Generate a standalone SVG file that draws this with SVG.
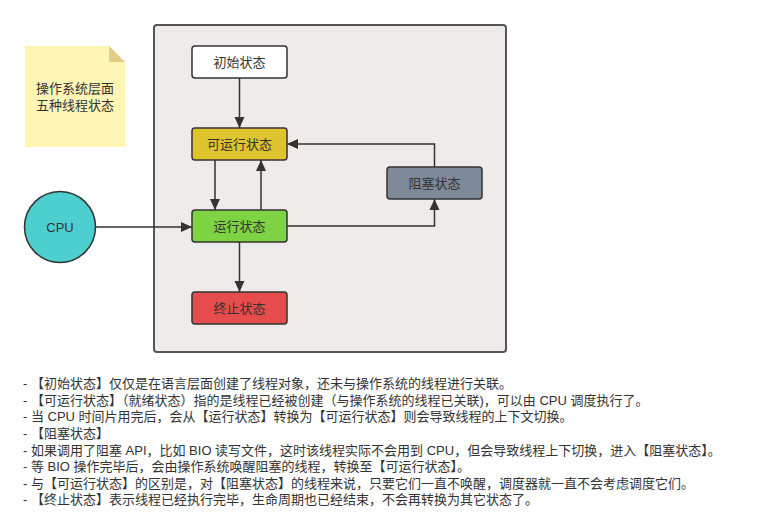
<svg xmlns="http://www.w3.org/2000/svg" width="769" height="529" viewBox="0 0 769 529">
<defs>
<marker id="ah" viewBox="0 0 10 12" refX="11" refY="6" markerWidth="10" markerHeight="12" markerUnits="userSpaceOnUse" orient="auto">
<path d="M0,1 L11,6 L0,11 z" fill="#333"/>
</marker>
<style>
.t{font-family:"Liberation Sans","Noto Sans CJK SC",sans-serif;font-size:13px;fill:#333;text-anchor:middle;dominant-baseline:central}
.n{stroke:#333;stroke-width:1.5}
.c{fill:none;stroke:#333;stroke-width:1.5;marker-end:url(#ah)}
.d{font-family:"Liberation Sans","Noto Sans CJK SC",sans-serif;font-size:13px;fill:#333}
</style>
</defs>
<rect width="769" height="529" fill="#fff"/>
<rect id="container" x="154" y="25" width="352" height="327" rx="3" fill="#efebea" stroke="#555" stroke-width="2"/>
<g id="note">
<path d="M25,46 H109 L125,62 V147 H25 Z" fill="#fff5b5"/>
<path d="M109,46 L125,62 H109 Z" fill="#e2cd86"/>
<text class="t" x="75" y="88">操作系统层面</text>
<text class="t" x="75" y="105">五种线程状态</text>
</g>
<g id="connectors">
<line class="c" x1="239.5" y1="78" x2="239.5" y2="128"/>
<line class="c" x1="215" y1="160" x2="215" y2="210"/>
<line class="c" x1="261" y1="210" x2="261" y2="160"/>
<line class="c" x1="239.5" y1="242" x2="239.5" y2="292"/>
<polyline class="c" points="287,226 434.5,226 434.5,199"/>
<polyline class="c" points="434.5,167 434.5,144 287,144"/>
<line class="c" x1="95.5" y1="227" x2="192" y2="227"/>
</g>
<g id="n-init"><rect class="n" x="192" y="46" width="95" height="32" rx="3" fill="#fff"/><text class="t" x="239.5" y="62">初始状态</text></g>
<g id="n-runnable"><rect class="n" x="192" y="128" width="95" height="32" rx="3" fill="#e0c42f"/><text class="t" x="239.5" y="144">可运行状态</text></g>
<g id="n-running"><rect class="n" x="192" y="210" width="95" height="32" rx="3" fill="#7dd341"/><text class="t" x="239.5" y="226">运行状态</text></g>
<g id="n-term"><rect class="n" x="192" y="292" width="95" height="32" rx="3" fill="#e74c4c"/><text class="t" x="239.5" y="308">终止状态</text></g>
<g id="n-block"><rect class="n" x="387" y="167" width="95" height="32" rx="3" fill="#7f8a98"/><text class="t" x="434.5" y="183">阻塞状态</text></g>
<g id="n-cpu"><circle class="n" cx="60" cy="227" r="35.5" fill="#4ecfcf"/><text class="t" x="60" y="227">CPU</text></g>
<g id="desc">
<text class="d" x="23" y="388">- 【初始状态】仅仅是在语言层面创建了线程对象，还未与操作系统的线程进行关联。</text>
<text class="d" x="23" y="405">- 【可运行状态】（就绪状态）指的是线程已经被创建（与操作系统的线程已关联)，可以由 CPU 调度执行了。</text>
<text class="d" x="23" y="421">- 当 CPU 时间片用完后，会从【运行状态】转换为【可运行状态】则会导致线程的上下文切换。</text>
<text class="d" x="23" y="438">- 【阻塞状态】</text>
<text class="d" x="23" y="455">- 如果调用了阻塞 API，比如 BIO 读写文件，这时该线程实际不会用到 CPU，但会导致线程上下切换，进入【阻塞状态】。</text>
<text class="d" x="23" y="471">- 等 BIO 操作完毕后，会由操作系统唤醒阻塞的线程，转换至【可运行状态】。</text>
<text class="d" x="23" y="488">- 与【可运行状态】的区别是，对【阻塞状态】的线程来说，只要它们一直不唤醒，调度器就一直不会考虑调度它们。</text>
<text class="d" x="23" y="504">- 【终止状态】表示线程已经执行完毕，生命周期也已经结束，不会再转换为其它状态了。</text>
</g>
</svg>
